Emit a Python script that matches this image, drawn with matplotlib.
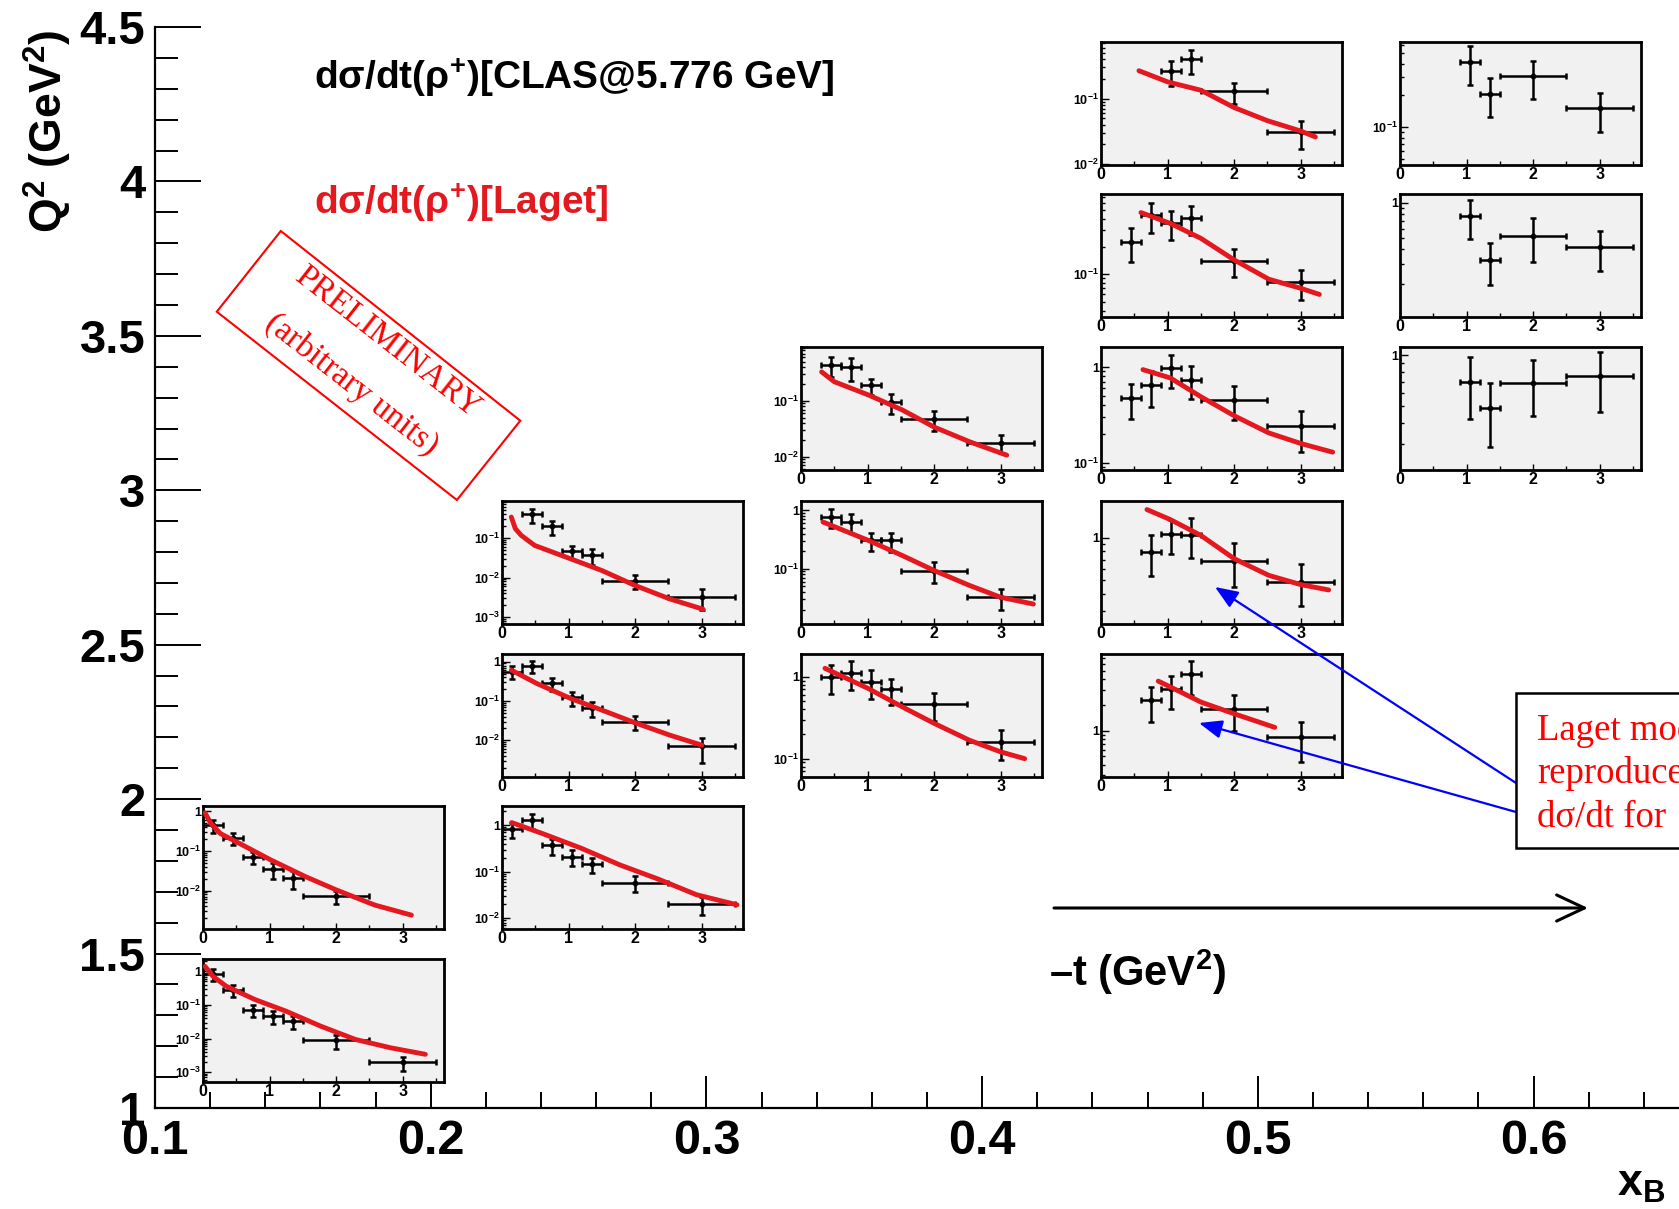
import numpy as np
import matplotlib
matplotlib.use("Agg")
import matplotlib.pyplot as plt
from matplotlib.patches import Polygon, Rectangle, FancyArrowPatch
from matplotlib.ticker import FixedLocator, FuncFormatter, MultipleLocator, NullFormatter, FormatStrFormatter

plt.rcParams.update({
    "font.family": ["Liberation Sans", "DejaVu Sans"],
    "font.weight": "bold",
    "mathtext.fontset": "custom",
    "mathtext.rm": "Liberation Sans:bold",
    "mathtext.bf": "Liberation Sans:bold",
    "mathtext.it": "Liberation Sans:bold:italic",
    "mathtext.sf": "Liberation Sans:bold",
    "mathtext.default": "rm",
})

# -t bins (GeV^2): centres and half widths
T_MID = [0.15, 0.45, 0.75, 1.05, 1.35, 2.0, 3.0]
T_HALF = [0.15, 0.15, 0.15, 0.15, 0.15, 0.5, 0.5]

# dsigma/dt per (xB, Q2) bin: CLAS points, errors, Laget curve
A6_SIG = [0.445, 0.214, 0.071, 0.034, 0.021, 0.0073]
A6_ERR = [0.155, 0.072, 0.024, 0.015, 0.010, 0.0026]
A6_CT = [0.03, 0.12, 0.26, 0.55, 1.02, 1.54, 2.0, 2.58, 3.13]
A6_CY = [0.91, 0.49, 0.275, 0.154, 0.059, 0.0224, 0.0104, 0.0043, 0.0024]

A7_SIG = [0.855, 0.286, 0.073, 0.046, 0.0328, 0.009, 0.002]
A7_ERR = [0.35, 0.115, 0.028, 0.018, 0.0135, 0.0042, 0.0009]
A7_CT = [0.03, 0.15, 0.35, 0.78, 1.25, 1.77, 2.29, 2.82, 3.34]
A7_CY = [1.41, 0.71, 0.36, 0.145, 0.065, 0.0233, 0.0094, 0.0053, 0.0034]

B4_SIG = [0.386, 0.193, 0.046, 0.036, 0.0084, 0.0033]
B4_ERR = [0.155, 0.073, 0.017, 0.015, 0.0032, 0.0018]
B4_CT = [0.14, 0.2, 0.29, 0.49, 1.03, 1.5, 2.0, 2.52, 3.02]
B4_CY = [0.33, 0.169, 0.114, 0.064, 0.0295, 0.015, 0.0063, 0.0029, 0.0016]

B5_SIG = [0.556, 0.78, 0.28, 0.124, 0.065, 0.0295, 0.0071]
B5_ERR = [0.2, 0.275, 0.105, 0.048, 0.027, 0.0115, 0.0045]
B5_CT = [0.14, 0.52, 1.03, 1.5, 2.0, 2.52, 3.0]
B5_CY = [0.61, 0.28, 0.116, 0.0586, 0.0278, 0.0135, 0.0075]

B6_SIG = [0.81, 1.28, 0.373, 0.21, 0.146, 0.058, 0.0203]
B6_ERR = [0.29, 0.435, 0.14, 0.08, 0.05, 0.022, 0.0088]
B6_CT = [0.145, 0.61, 1.19, 1.77, 2.35, 2.92, 3.53]
B6_CY = [1.14, 0.66, 0.32, 0.14, 0.069, 0.032, 0.0194]

C3_SIG = [0.44, 0.41, 0.19, 0.097, 0.0475, 0.018]
C3_ERR = [0.17, 0.18, 0.06, 0.038, 0.019, 0.0065]
C3_CT = [0.31, 0.5, 1.01, 1.52, 2.0, 2.53, 3.09]
C3_CY = [0.33, 0.22, 0.128, 0.069, 0.034, 0.0186, 0.0107]

C4_SIG = [0.77, 0.63, 0.306, 0.306, 0.0935, 0.0326]
C4_ERR = [0.28, 0.225, 0.105, 0.11, 0.036, 0.0125]
C4_CT = [0.33, 1.01, 1.52, 2.0, 2.53, 3.0, 3.49]
C4_CY = [0.63, 0.306, 0.169, 0.0935, 0.052, 0.0326, 0.025]

C5_SIG = [1.0, 1.12, 0.87, 0.70, 0.46, 0.16]
C5_ERR = [0.39, 0.43, 0.335, 0.25, 0.17, 0.065]
C5_CT = [0.36, 1.01, 1.52, 2.0, 2.53, 3.0, 3.36]
C5_CY = [1.27, 0.72, 0.43, 0.27, 0.168, 0.121, 0.10]

D1_SIG = [0.266, 0.40, 0.129, 0.031]
D1_ERR = [0.11, 0.16, 0.045, 0.014]
D1_CT = [0.57, 1.0, 1.5, 2.0, 2.5, 3.0, 3.22]
D1_CY = [0.266, 0.18, 0.134, 0.073, 0.046, 0.032, 0.026]

D2_SIG = [0.226, 0.44, 0.358, 0.41, 0.14, 0.082]
D2_ERR = [0.09, 0.16, 0.125, 0.145, 0.048, 0.03]
D2_CT = [0.6, 1.04, 1.5, 2.0, 2.52, 3.0, 3.28]
D2_CY = [0.47, 0.358, 0.246, 0.143, 0.088, 0.070, 0.060]

D3_SIG = [0.475, 0.65, 0.98, 0.74, 0.457, 0.24]
D3_ERR = [0.19, 0.27, 0.37, 0.28, 0.175, 0.11]
D3_CT = [0.63, 1.04, 1.5, 2.0, 2.52, 3.0, 3.48]
D3_CY = [0.94, 0.77, 0.49, 0.31, 0.205, 0.159, 0.129]

D4_SIG = [0.79, 1.06, 1.05, 0.68, 0.488]
D4_ERR = [0.26, 0.29, 0.33, 0.235, 0.16]
D4_CT = [0.69, 1.04, 1.5, 2.0, 2.52, 3.0, 3.42]
D4_CY = [1.59, 1.35, 1.04, 0.71, 0.54, 0.464, 0.425]

D5_SIG = [2.25, 3.04, 4.52, 1.8, 0.85]
D5_ERR = [1.0, 1.25, 1.9, 0.8, 0.42]
D5_CT = [0.86, 1.04, 1.5, 2.0, 2.61]
D5_CY = [3.77, 3.23, 2.15, 1.57, 1.09]

E1_SIG = [0.416, 0.207, 0.306, 0.151]
E1_ERR = [0.166, 0.083, 0.12, 0.06]
E2_SIG = [0.77, 0.326, 0.524, 0.414]
E2_ERR = [0.28, 0.13, 0.21, 0.155]
E3_SIG = [0.70, 0.488, 0.69, 0.75]
E3_ERR = [0.28, 0.2, 0.25, 0.29]

RED = "#e3191f"
W, H = 1679, 1209

# pad layout in pixels
COL_LEFT = {"A": 203, "B": 502, "C": 801, "D": 1101, "E": 1400}
ROW_TOP = [42, 194, 347, 501, 654, 806, 959]
PANEL_W, PANEL_H = 241, 123

DECADES = [1e-4, 1e-3, 1e-2, 1e-1, 1.0, 10.0]
SUBDECADES = [k * 10.0 ** n for n in range(-4, 1) for k in range(2, 10)]


def fig_rect(x0, y0, x1, y1):
    return [x0 / W, 1 - y1 / H, (x1 - x0) / W, (y1 - y0) / H]


def fpt(x, y):
    return (x / W, 1 - y / H)


def decade_label(v, pos):
    e = int(round(np.log10(v)))
    if e == 0:
        return "1"
    if e == 1:
        return "10"
    return r"$10^{%d}$" % e


fig = plt.figure(figsize=(W / 100, H / 100), dpi=100)

# xB - Q2 frame
ax = fig.add_axes(fig_rect(155, 27, W, 1108))
ax.set_xlim(0.1, 0.1 + (W - 155) / 2757)
ax.set_ylim(1, 4.5)
ax.patch.set_visible(False)
for s in ("top", "right"):
    ax.spines[s].set_visible(False)
for s in ("left", "bottom"):
    ax.spines[s].set_linewidth(1.6)
ax.xaxis.set_major_locator(MultipleLocator(0.1))
ax.xaxis.set_minor_locator(MultipleLocator(0.02))
ax.yaxis.set_major_locator(MultipleLocator(0.5))
ax.yaxis.set_minor_locator(MultipleLocator(0.1))
ax.xaxis.set_major_formatter(FormatStrFormatter("%.1f"))
ax.yaxis.set_major_formatter(FormatStrFormatter("%g"))
ax.tick_params(which="both", direction="in", width=1.4)
ax.tick_params(axis="y", which="major", length=33, labelsize=34, pad=7)
ax.tick_params(axis="y", which="minor", length=16.5)
ax.tick_params(axis="x", which="major", length=23, labelsize=35, pad=8)
ax.tick_params(axis="x", which="minor", length=11.5)


def draw_panel(col, row, first, sig, err, ylim, curve_t=None, curve_y=None):
    x0, y0 = COL_LEFT[col], ROW_TOP[row]
    p = fig.add_axes(fig_rect(x0, y0, x0 + PANEL_W, y0 + PANEL_H))
    p.set_facecolor("#f1f1f1")
    p.set_yscale("log")
    n = len(sig)
    t = T_MID[first:first + n]
    dt = T_HALF[first:first + n]
    p.errorbar(t, sig, xerr=dt, yerr=err, fmt="o", ms=3.2, color="black",
               elinewidth=1.8, capsize=2.4, capthick=1.8, zorder=3)
    if curve_t is not None:
        p.plot(curve_t, curve_y, color=RED, lw=3.5, solid_capstyle="round", zorder=4)
    p.set_xlim(0, 3.62)
    p.set_ylim(*ylim)
    p.xaxis.set_major_locator(MultipleLocator(1))
    p.xaxis.set_minor_locator(MultipleLocator(0.5))
    p.yaxis.set_major_locator(FixedLocator(DECADES))
    p.yaxis.set_minor_locator(FixedLocator(SUBDECADES))
    p.yaxis.set_major_formatter(FuncFormatter(decade_label))
    p.yaxis.set_minor_formatter(NullFormatter())
    p.tick_params(which="both", direction="in", top=False, right=False, width=1.0)
    p.tick_params(axis="y", which="major", length=6, labelsize=9, pad=1.5)
    p.tick_params(axis="y", which="minor", length=3)
    p.tick_params(axis="x", which="major", length=4, labelsize=11.5, pad=1.5)
    p.tick_params(axis="x", which="minor", length=3)
    for s in p.spines.values():
        s.set_linewidth(2.0)
    return p


draw_panel("A", 5, 0, A6_SIG, A6_ERR, (0.00107, 1.36), A6_CT, A6_CY)
draw_panel("A", 6, 0, A7_SIG, A7_ERR, (0.00051, 2.33), A7_CT, A7_CY)
draw_panel("B", 3, 1, B4_SIG, B4_ERR, (0.00068, 0.835), B4_CT, B4_CY)
draw_panel("B", 4, 0, B5_SIG, B5_ERR, (0.00116, 1.57), B5_CT, B5_CY)
draw_panel("B", 5, 0, B6_SIG, B6_ERR, (0.00585, 2.59), B6_CT, B6_CY)
draw_panel("C", 2, 1, C3_SIG, C3_ERR, (0.0058, 0.92), C3_CT, C3_CY)
draw_panel("C", 3, 1, C4_SIG, C4_ERR, (0.0114, 1.44), C4_CT, C4_CY)
draw_panel("C", 4, 1, C5_SIG, C5_ERR, (0.0597, 1.9), C5_CT, C5_CY)
draw_panel("D", 0, 3, D1_SIG, D1_ERR, (0.0097, 0.73), D1_CT, D1_CY)
draw_panel("D", 1, 1, D2_SIG, D2_ERR, (0.034, 0.75), D2_CT, D2_CY)
draw_panel("D", 2, 1, D3_SIG, D3_ERR, (0.084, 1.62), D3_CT, D3_CY)
draw_panel("D", 3, 2, D4_SIG, D4_ERR, (0.243, 1.83), D4_CT, D4_CY)
draw_panel("D", 4, 2, D5_SIG, D5_ERR, (0.288, 7.8), D5_CT, D5_CY)
draw_panel("E", 0, 3, E1_SIG, E1_ERR, (0.044, 0.64))
draw_panel("E", 1, 3, E2_SIG, E2_ERR, (0.105, 1.19))
draw_panel("E", 2, 3, E3_SIG, E3_ERR, (0.21, 1.12))

# axis titles
fig.text(48 / W, 1 - 30 / H, "Q$^{2}$ (GeV$^{2}$)", rotation=90, fontsize=32,
         ha="center", va="top")
fig.text(1617 / W, 1 - 1196 / H, "x$_{B}$", fontsize=32, ha="left", va="baseline")

# legend-like labels
fig.text(314 / W, 1 - 78 / H, "d\u03c3/dt(\u03c1$^{+}$)[CLAS@5.776 GeV]",
         fontsize=28, ha="left", va="center", color="black")
fig.text(314 / W, 1 - 203 / H, "d\u03c3/dt(\u03c1$^{+}$)[Laget]",
         fontsize=28, ha="left", va="center", color=RED)

# preliminary stamp
stamp = Polygon([fpt(280.8, 231), fpt(520.3, 420.7), fpt(456.9, 500), fpt(216.8, 311.7)],
                closed=True, fill=False, edgecolor="red", lw=1.5, transform=fig.transFigure)
fig.add_artist(stamp)
fig.text(387 / W, 1 - 341.7 / H, "PRELIMINARY", rotation=-38, rotation_mode="anchor",
         ha="center", va="center", family="Liberation Serif", fontweight="normal",
         fontsize=24, color="red")
fig.text(352 / W, 1 - 385 / H, "(arbitrary units)", rotation=-38, rotation_mode="anchor",
         ha="center", va="center", family="Liberation Serif", fontweight="normal",
         fontsize=24, color="red")

# -t direction arrow
fig.add_artist(FancyArrowPatch(fpt(1054, 908), fpt(1588, 908), transform=fig.transFigure,
                               arrowstyle="->,head_length=1.0,head_width=0.47",
                               mutation_scale=20, lw=2.2, color="black",
                               shrinkA=0, shrinkB=0))
fig.text(1049 / W, 1 - 972 / H, "\u2013t (GeV$^{2}$)", fontsize=30, ha="left", va="center")

# comment box with pointers
for tail, head in [((1516, 783), (1215, 587)), ((1516, 812), (1199, 723))]:
    fig.add_artist(FancyArrowPatch(fpt(*tail), fpt(*head), transform=fig.transFigure,
                                   arrowstyle="-|>,head_length=1.0,head_width=0.4",
                                   mutation_scale=14, lw=1.6, color="blue",
                                   shrinkA=0, shrinkB=0, zorder=4))
box = Rectangle(fpt(1516, 848), (1720 - 1516) / W, (848 - 693) / H, transform=fig.transFigure,
                facecolor="white", edgecolor="black", lw=1.8, zorder=5)
fig.add_artist(box)
for line, base in [("Laget model", 740), ("reproduces", 783), ("d\u03c3/dt for", 827)]:
    fig.text(1537 / W, 1 - base / H, line, family="Liberation Serif", fontweight="normal",
             fontsize=26.5, color="red", ha="left", va="baseline", zorder=6)

fig.savefig("out.png", dpi=100)
